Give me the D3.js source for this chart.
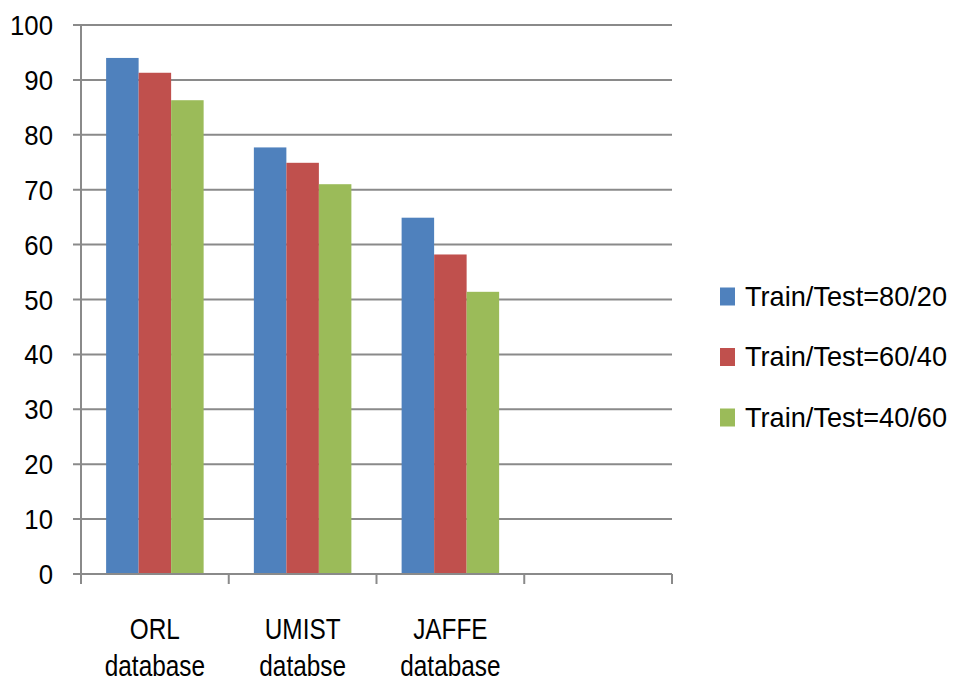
<!DOCTYPE html>
<html>
<head>
<meta charset="utf-8">
<script src="https://cdn.jsdelivr.net/npm/d3@7"></script>
<style>
  html, body { margin: 0; padding: 0; background: #fff; }
  svg { display: block; }
  text { font-family: "Liberation Sans", Arial, sans-serif; fill: #000; }
</style>
</head>
<body>
<svg id="chart" width="957" height="681"></svg>
<script>
// ---- data ----
const categories = [["ORL", "database"], ["UMIST", "databse"], ["JAFFE", "database"]];
const seriesNames = ["Train/Test=80/20", "Train/Test=60/40", "Train/Test=40/60"];
const s8020 = [94.0, 77.7, 64.9];
const s6040 = [91.3, 74.9, 58.2];
const s4060 = [86.3, 71.0, 51.4];
const yTicks = [0, 10, 20, 30, 40, 50, 60, 70, 80, 90, 100];
const colors = ["#4F81BD", "#C0504D", "#9BBB59"];

const series = [s8020, s6040, s4060];
// the original chart has an empty fourth category slot
const slots = categories.map(c => c.join(" ")).concat([" "]);

const svg = d3.select("#chart");
const plotLeft = 81, plotRight = 672, plotTop = 25, plotBottom = 574;
const gridColor = "#8a8a8a";

const y = d3.scaleLinear().domain([0, 100]).range([plotBottom, plotTop]);
const x0 = d3.scaleBand().domain(slots).range([plotLeft, plotRight]).paddingInner(0.34).paddingOuter(0.17);
const x1 = d3.scaleBand().domain(d3.range(series.length)).range([0, x0.bandwidth()]);

// gridlines
svg.append("g").selectAll("line").data(yTicks.filter(t => t > 0)).join("line")
  .attr("x1", 73).attr("x2", plotRight)
  .attr("y1", d => y(d)).attr("y2", d => y(d))
  .attr("stroke", gridColor).attr("stroke-width", 2);

// bars
const gCat = svg.append("g").selectAll("g").data(categories).join("g")
  .attr("transform", (d, i) => `translate(${x0(slots[i])},0)`);
gCat.selectAll("rect").data((d, i) => series.map((s, k) => ({k, v: s[i]}))).join("rect")
  .attr("x", d => x1(d.k))
  .attr("width", x1.bandwidth())
  .attr("y", d => y(d.v))
  .attr("height", d => y(0) - y(d.v))
  .attr("fill", d => colors[d.k]);

// y axis line
svg.append("line").attr("x1", plotLeft).attr("x2", plotLeft).attr("y1", plotTop).attr("y2", plotBottom)
  .attr("stroke", gridColor).attr("stroke-width", 2);
// x axis line
svg.append("line").attr("x1", 73).attr("x2", plotRight).attr("y1", y(0)).attr("y2", y(0))
  .attr("stroke", gridColor).attr("stroke-width", 2);
// category separator ticks
const boundaries = slots.map(s => x0(s) - x0.step() * x0.paddingOuter()).concat([plotRight]);
svg.append("g").selectAll("line").data(boundaries).join("line")
  .attr("x1", d => d).attr("x2", d => d)
  .attr("y1", y(0)).attr("y2", y(0) + 10)
  .attr("stroke", gridColor).attr("stroke-width", 2);

// y labels
svg.append("g").selectAll("g").data(yTicks).join("g")
  .attr("transform", d => `translate(53,${y(d)}) scale(0.92,1)`)
  .append("text")
  .attr("text-anchor", "end").attr("dy", "0.36em")
  .style("font-size", "28px")
  .text(d => d);

// category labels
const catLab = svg.append("g").selectAll("g").data(categories).join("g");
catLab.each(function(d, i) {
  const cx = x0(slots[i]) + x0.bandwidth() / 2;
  d.forEach((line, j) => {
    d3.select(this).append("g")
      .attr("transform", `translate(${cx},${y(0) + 65 + j * 37}) scale(0.84,1)`)
      .append("text").attr("text-anchor", "middle")
      .style("font-size", "29px")
      .text(line);
  });
});

// legend
const leg = svg.append("g").selectAll("g").data(seriesNames).join("g")
  .attr("transform", (d, i) => `translate(720,${305.5 + i * 60.5})`);
leg.append("rect").attr("x", 0).attr("y", -18).attr("width", 15).attr("height", 18)
  .attr("fill", (d, i) => colors[i]);
leg.append("g").attr("transform", "translate(25,0) scale(0.97,1)")
  .append("text").style("font-size", "28px").text(d => d);
</script>
</body>
</html>
